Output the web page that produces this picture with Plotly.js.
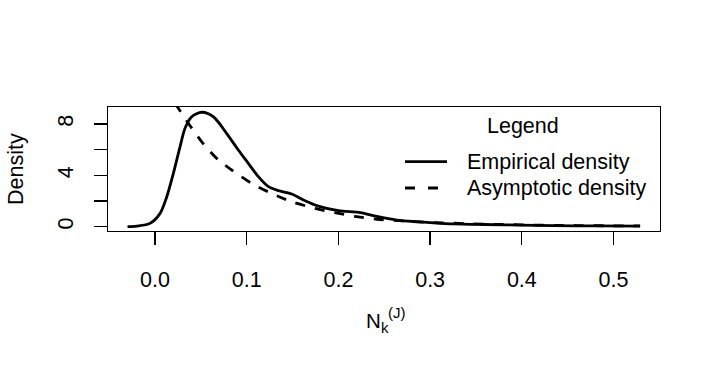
<!DOCTYPE html>
<html>
<head>
<meta charset="utf-8">
<script src="https://cdn.plot.ly/plotly-3.0.1.min.js"></script>
<style>
  html, body { margin: 0; padding: 0; background: #fff; }
  #myPlot { width: 714px; height: 366px; }
</style>
</head>
<body>
<div id="myPlot"></div>
<script>
// empirical density (solid)
const empX = [-0.030, -0.020, -0.0055, 0.0055, 0.0128, 0.020, 0.0273, 0.0327, 0.040, 0.051, 0.0636,
  0.078, 0.0908, 0.1017, 0.1127, 0.1236, 0.1345, 0.149, 0.1636, 0.178, 0.200, 0.224, 0.242,
  0.264, 0.285, 0.300, 0.325, 0.360, 0.398, 0.434, 0.480, 0.529];
const empY = [0.0, 0.05, 0.26, 1.04, 2.34, 4.16, 6.24, 7.67, 8.57, 8.92, 8.57,
  7.28, 5.98, 4.94, 3.9, 3.12, 2.81, 2.55, 2.03, 1.61, 1.25, 1.1, 0.8,
  0.52, 0.39, 0.32, 0.22, 0.17, 0.13, 0.08, 0.06, 0.05];

// asymptotic density (dashed)
const asyX = [0.022, 0.0254, 0.0363, 0.051, 0.069, 0.0836, 0.1054, 0.127, 0.149, 0.1745, 0.196, 0.220,
  0.242, 0.270, 0.300, 0.340, 0.380, 0.420, 0.460, 0.500, 0.529];
const asyY = [9.6, 9.23, 8.06, 6.62, 5.2, 4.42, 3.38, 2.6, 1.95, 1.43, 1.09, 0.78,
  0.58, 0.45, 0.33, 0.24, 0.17, 0.12, 0.09, 0.07, 0.06];

const xTicks = [0, 0.1, 0.2, 0.3, 0.4, 0.5];
const xTickText = ["0.0", "0.1", "0.2", "0.3", "0.4", "0.5"];
const yTicks = [0, 2, 4, 6, 8];
const yTickText = ["0", "", "4", "", "8"];

const legendNames = ["Empirical density", "Asymptotic density"];

const fnt = {family: "Liberation Sans, Arial, sans-serif", size: 21.5, color: "#000"};

const data = [
  {x: empX, y: empY, mode: "lines", name: legendNames[0],
   line: {color: "#000", width: 2.8, shape: "spline", smoothing: 0.8}},
  {x: asyX, y: asyY, mode: "lines", name: legendNames[1],
   line: {color: "#000", width: 2.8, dash: "10px,10px", shape: "spline", smoothing: 0.8}}
];

// plot box: x 108..660, y 107..231 -> helpers for legend placement in paper units
const px = v => (v - 108) / 552;
const py = v => (231 - v) / 124;

const layout = {
  width: 714, height: 366,
  margin: {l: 108, r: 54, t: 107, b: 135},
  paper_bgcolor: "#fff", plot_bgcolor: "#fff",
  font: fnt,
  showlegend: false,
  xaxis: {
    range: [-0.0513, 0.5507], tickvals: xTicks, ticktext: xTickText,
    showgrid: false, zeroline: false,
    showline: true, mirror: true, linecolor: "#000", linewidth: 1.3,
    ticks: "outside", ticklen: 13, tickwidth: 1.3, tickcolor: "#000",
    ticklabelstandoff: 16, tickfont: fnt
  },
  yaxis: {
    range: [-0.335, 9.33], tickvals: yTicks, ticktext: yTickText,
    showgrid: false, zeroline: false,
    showline: true, mirror: true, linecolor: "#000", linewidth: 1.3,
    ticks: "outside", ticklen: 13, tickwidth: 1.3, tickcolor: "#000",
    tickangle: -90, ticklabelstandoff: 12, tickfont: fnt
  },
  shapes: [
    {type: "line", xref: "paper", yref: "paper", x0: px(405), x1: px(447), y0: py(161.7), y1: py(161.7),
     line: {color: "#000", width: 2.8}},
    {type: "line", xref: "paper", yref: "paper", x0: px(405), x1: px(447), y0: py(188), y1: py(188),
     line: {color: "#000", width: 2.8, dash: "10px,13px"}}
  ],
  annotations: [
    {text: "Legend", xref: "paper", yref: "paper", x: px(523), y: py(126),
     xanchor: "center", yanchor: "middle", showarrow: false, font: fnt},
    {text: legendNames[0], xref: "paper", yref: "paper", x: px(465), y: py(161.7),
     xanchor: "left", yanchor: "middle", showarrow: false, font: fnt},
    {text: legendNames[1], xref: "paper", yref: "paper", x: px(465), y: py(188),
     xanchor: "left", yanchor: "middle", showarrow: false, font: fnt},
    {text: "Density", xref: "paper", yref: "paper", x: 0, y: 0.5, xshift: -92,
     xanchor: "center", yanchor: "middle", textangle: -90, showarrow: false, font: fnt},
    {text: "N", xref: "paper", yref: "paper", x: px(373.3), y: 0, yshift: -89,
     xanchor: "center", yanchor: "middle", showarrow: false, font: {family: fnt.family, size: 20.5, color: "#000"}},
    {text: "k", xref: "paper", yref: "paper", x: px(385), y: 0, yshift: -96,
     xanchor: "center", yanchor: "middle", showarrow: false, font: {family: fnt.family, size: 15, color: "#000"}},
    {text: "(J)", xref: "paper", yref: "paper", x: px(397), y: 0, yshift: -81,
     xanchor: "center", yanchor: "middle", showarrow: false, font: {family: fnt.family, size: 15, color: "#000"}}
  ]
};

Plotly.newPlot("myPlot", data, layout, {displayModeBar: false, staticPlot: true});
</script>
</body>
</html>
